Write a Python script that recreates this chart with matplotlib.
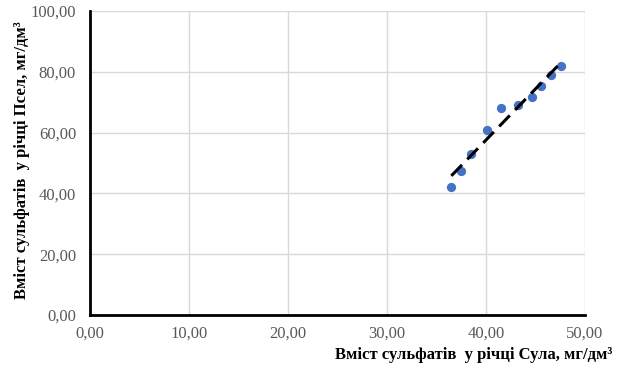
import numpy as np
import matplotlib.pyplot as plt
from matplotlib.ticker import FuncFormatter

# sulphate content, mg/dm3
sula = [36.5, 37.5, 38.5, 40.1, 41.5, 43.2, 44.6, 45.6, 46.6, 47.6]
psel = [42.2, 47.5, 52.9, 60.9, 68.2, 69.2, 71.6, 75.4, 79.0, 81.8]

xlab = 'Вміст сульфатів  у річці Сула, мг/дм³'
ylab = 'Вміст сульфатів  у річці Псел, мг/дм³'

plt.rcParams['font.family'] = ['Liberation Serif', 'DejaVu Serif']

fig = plt.figure(figsize=(6.19, 3.69), dpi=100)
ax = fig.add_axes([0.1454, 0.1463, 0.7997, 0.8238])

ax.scatter(sula, psel, s=32, color='#4472C4', zorder=3)

# linear trend
k, b = np.polyfit(sula, psel, 1)
xt = np.array([min(sula), max(sula)])
ax.plot(xt, k * xt + b, color='black', lw=2.2, dashes=(5, 2.5), zorder=4)

ax.set_xlim(0, 50)
ax.set_ylim(0, 100)
ax.set_xticks(np.arange(0, 51, 10))
ax.set_yticks(np.arange(0, 101, 20))
fmt = FuncFormatter(lambda v, p: f'{v:.2f}'.replace('.', ','))
ax.xaxis.set_major_formatter(fmt)
ax.yaxis.set_major_formatter(fmt)
ax.grid(True, color='#d9d9d9', lw=1)
ax.set_axisbelow(True)
ax.tick_params(length=0, labelsize=12, colors='#595959')
ax.tick_params(axis='x', pad=8)
ax.tick_params(axis='y', pad=10)

for s in ['top', 'right']:
    ax.spines[s].set_visible(False)
for s in ['left', 'bottom']:
    ax.spines[s].set_linewidth(2)
    ax.spines[s].set_color('black')

fig.text(0.99, 0.015, xlab, ha='right', va='bottom', fontsize=12, fontweight='bold')
fig.text(0.035, 0.565, ylab, ha='center', va='center', rotation=90, fontsize=12, fontweight='bold')

fig.savefig('out.png', dpi=100)
